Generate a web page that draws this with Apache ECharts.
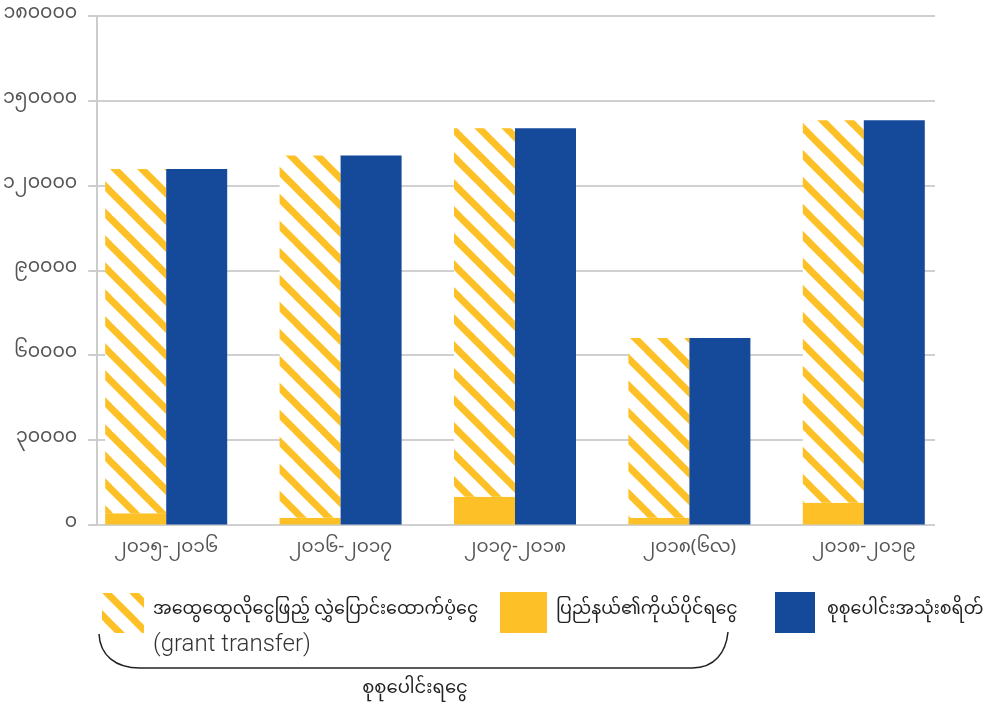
<!DOCTYPE html>
<html>
<head>
<meta charset="utf-8">
<script src="https://cdn.jsdelivr.net/npm/echarts@6/dist/echarts.min.js"></script>
<style>
html,body{margin:0;padding:0;background:#fff;}
#c{width:984px;height:710px;}
</style>
</head>
<body>
<div id="c"></div>
<script>
// ---- data ----
const categories = ['၂၀၁၅-၂၀၁၆', '၂၀၁၆-၂၀၁၇', '၂၀၁၇-၂၀၁၈', '၂၀၁၈(၆လ)', '၂၀၁၈-၂၀၁၉'];
const ownRevenue = [4000, 2400, 9800, 2400, 7700];          // yellow, solid
const grantTransfer = [121800, 128200, 130500, 63600, 135400]; // hatched
const totalExpenditure = [125800, 130600, 140300, 66000, 143100]; // blue
const yTickValues = [0, 30000, 60000, 90000, 120000, 150000, 180000];
const yTickLabels = ['၀', '၃၀၀၀၀', '၆၀၀၀၀', '၉၀၀၀၀', '၁၂၀၀၀၀', '၁၅၀၀၀၀', '၁၈၀၀၀၀'];
const legendNames = ['အထွေထွေလိုငွေဖြည့် လွှဲပြောင်းထောက်ပံ့ငွေ', 'ပြည်နယ်၏ကိုယ်ပိုင်ရငွေ', 'စုစုပေါင်းအသုံးစရိတ်'];
const legendSub = '(grant transfer)';
const braceLabel = 'စုစုပေါင်းရငွေ';

const YELLOW = '#FDC127';
const BLUE = '#15499A';
const FONT = "'Noto Sans Myanmar','Padauk','Myanmar Text','Noto Sans',Roboto,sans-serif";

// hatch pattern
const S = 27;
const pc = document.createElement('canvas');
pc.width = S; pc.height = S;
const g = pc.getContext('2d');
g.fillStyle = '#fff'; g.fillRect(0, 0, S, S);
g.strokeStyle = YELLOW; g.lineWidth = 7;
for (const o of [-S, 0, S]) {
  g.beginPath(); g.moveTo(o - 2, -2); g.lineTo(o + S + 2, S + 2); g.stroke();
}
const hatch = { image: pc, repeat: 'repeat' };

const chart = echarts.init(document.getElementById('c'), null, { renderer: 'canvas' });

const labelMap = {};
yTickValues.forEach((v, i) => labelMap[v] = yTickLabels[i]);

const braceStyle = { fill: null, stroke: '#222', lineWidth: 1.5 };

chart.setOption({
  animation: false,
  textStyle: { fontFamily: FONT },
  grid: [
    { left: 97, right: 49, top: 16, bottom: 185.5 },
    { left: 79, right: 33, top: 16, bottom: 185.5 }
  ],
  xAxis: [
    { gridIndex: 0, type: 'category', data: categories, show: false },
    {
      gridIndex: 1, type: 'category', data: categories,
      axisLine: { show: false }, axisTick: { show: false },
      axisLabel: { color: '#555', fontSize: 18.5, margin: 16, fontFamily: FONT }
    }
  ],
  yAxis: [
    {
      gridIndex: 0, type: 'value', min: 0, max: 180000, interval: 30000,
      axisLine: { show: true, lineStyle: { color: '#cccccc', width: 2 } },
      axisTick: { show: true, length: 9, lineStyle: { color: '#cccccc', width: 2 } },
      splitLine: { show: true, lineStyle: { color: '#d0d0d0', width: 2 } },
      axisLabel: {
        color: '#555', fontSize: 19, margin: 20, fontFamily: FONT,
        formatter: v => labelMap[v] !== undefined ? labelMap[v] : ''
      }
    },
    { gridIndex: 1, type: 'value', min: 0, max: 180000, interval: 30000, show: false, splitLine: { show: false } }
  ],
  series: [
    {
      name: legendNames[1], type: 'bar', xAxisIndex: 1, yAxisIndex: 1, stack: 'rev',
      data: ownRevenue, barWidth: 61, barGap: '0%', itemStyle: { color: YELLOW }
    },
    {
      name: legendNames[0], type: 'bar', xAxisIndex: 1, yAxisIndex: 1, stack: 'rev',
      data: grantTransfer, barWidth: 61, barGap: '0%', itemStyle: { color: hatch }
    },
    {
      name: legendNames[2], type: 'bar', xAxisIndex: 1, yAxisIndex: 1,
      data: totalExpenditure, barWidth: 61, barGap: '0%', itemStyle: { color: BLUE }
    }
  ],
  graphic: [
    { type: 'rect', shape: { x: 102, y: 593, width: 42, height: 40 }, style: { fill: hatch } },
    { type: 'text', x: 153, y: 612, style: { text: legendNames[0], fill: '#222', font: '17.5px ' + FONT, textVerticalAlign: 'middle' } },
    { type: 'text', x: 153, y: 645, style: { text: legendSub, fill: '#333', font: '300 24px Roboto, sans-serif', textVerticalAlign: 'middle' } },
    { type: 'rect', shape: { x: 500, y: 592, width: 47, height: 41 }, style: { fill: YELLOW } },
    { type: 'text', x: 556, y: 612, style: { text: legendNames[1], fill: '#222', font: '17.5px ' + FONT, textVerticalAlign: 'middle' } },
    { type: 'rect', shape: { x: 775, y: 592, width: 40, height: 41 }, style: { fill: BLUE } },
    { type: 'text', x: 827, y: 612, style: { text: legendNames[2], fill: '#222', font: '17.5px ' + FONT, textVerticalAlign: 'middle' } },
    { type: 'bezierCurve', shape: { x1: 99, y1: 634, cpx1: 100, cpy1: 655, cpx2: 115, cpy2: 668, x2: 140, y2: 668 }, style: braceStyle },
    { type: 'line', shape: { x1: 140, y1: 668, x2: 692, y2: 668 }, style: braceStyle },
    { type: 'bezierCurve', shape: { x1: 692, y1: 668, cpx1: 715, cpy1: 668, cpx2: 726, cpy2: 652, x2: 728, y2: 632 }, style: braceStyle },
    { type: 'text', x: 415, y: 691, style: { text: braceLabel, fill: '#222', font: '18px ' + FONT, textAlign: 'center', textVerticalAlign: 'middle' } }
  ]
});
</script>
</body>
</html>
